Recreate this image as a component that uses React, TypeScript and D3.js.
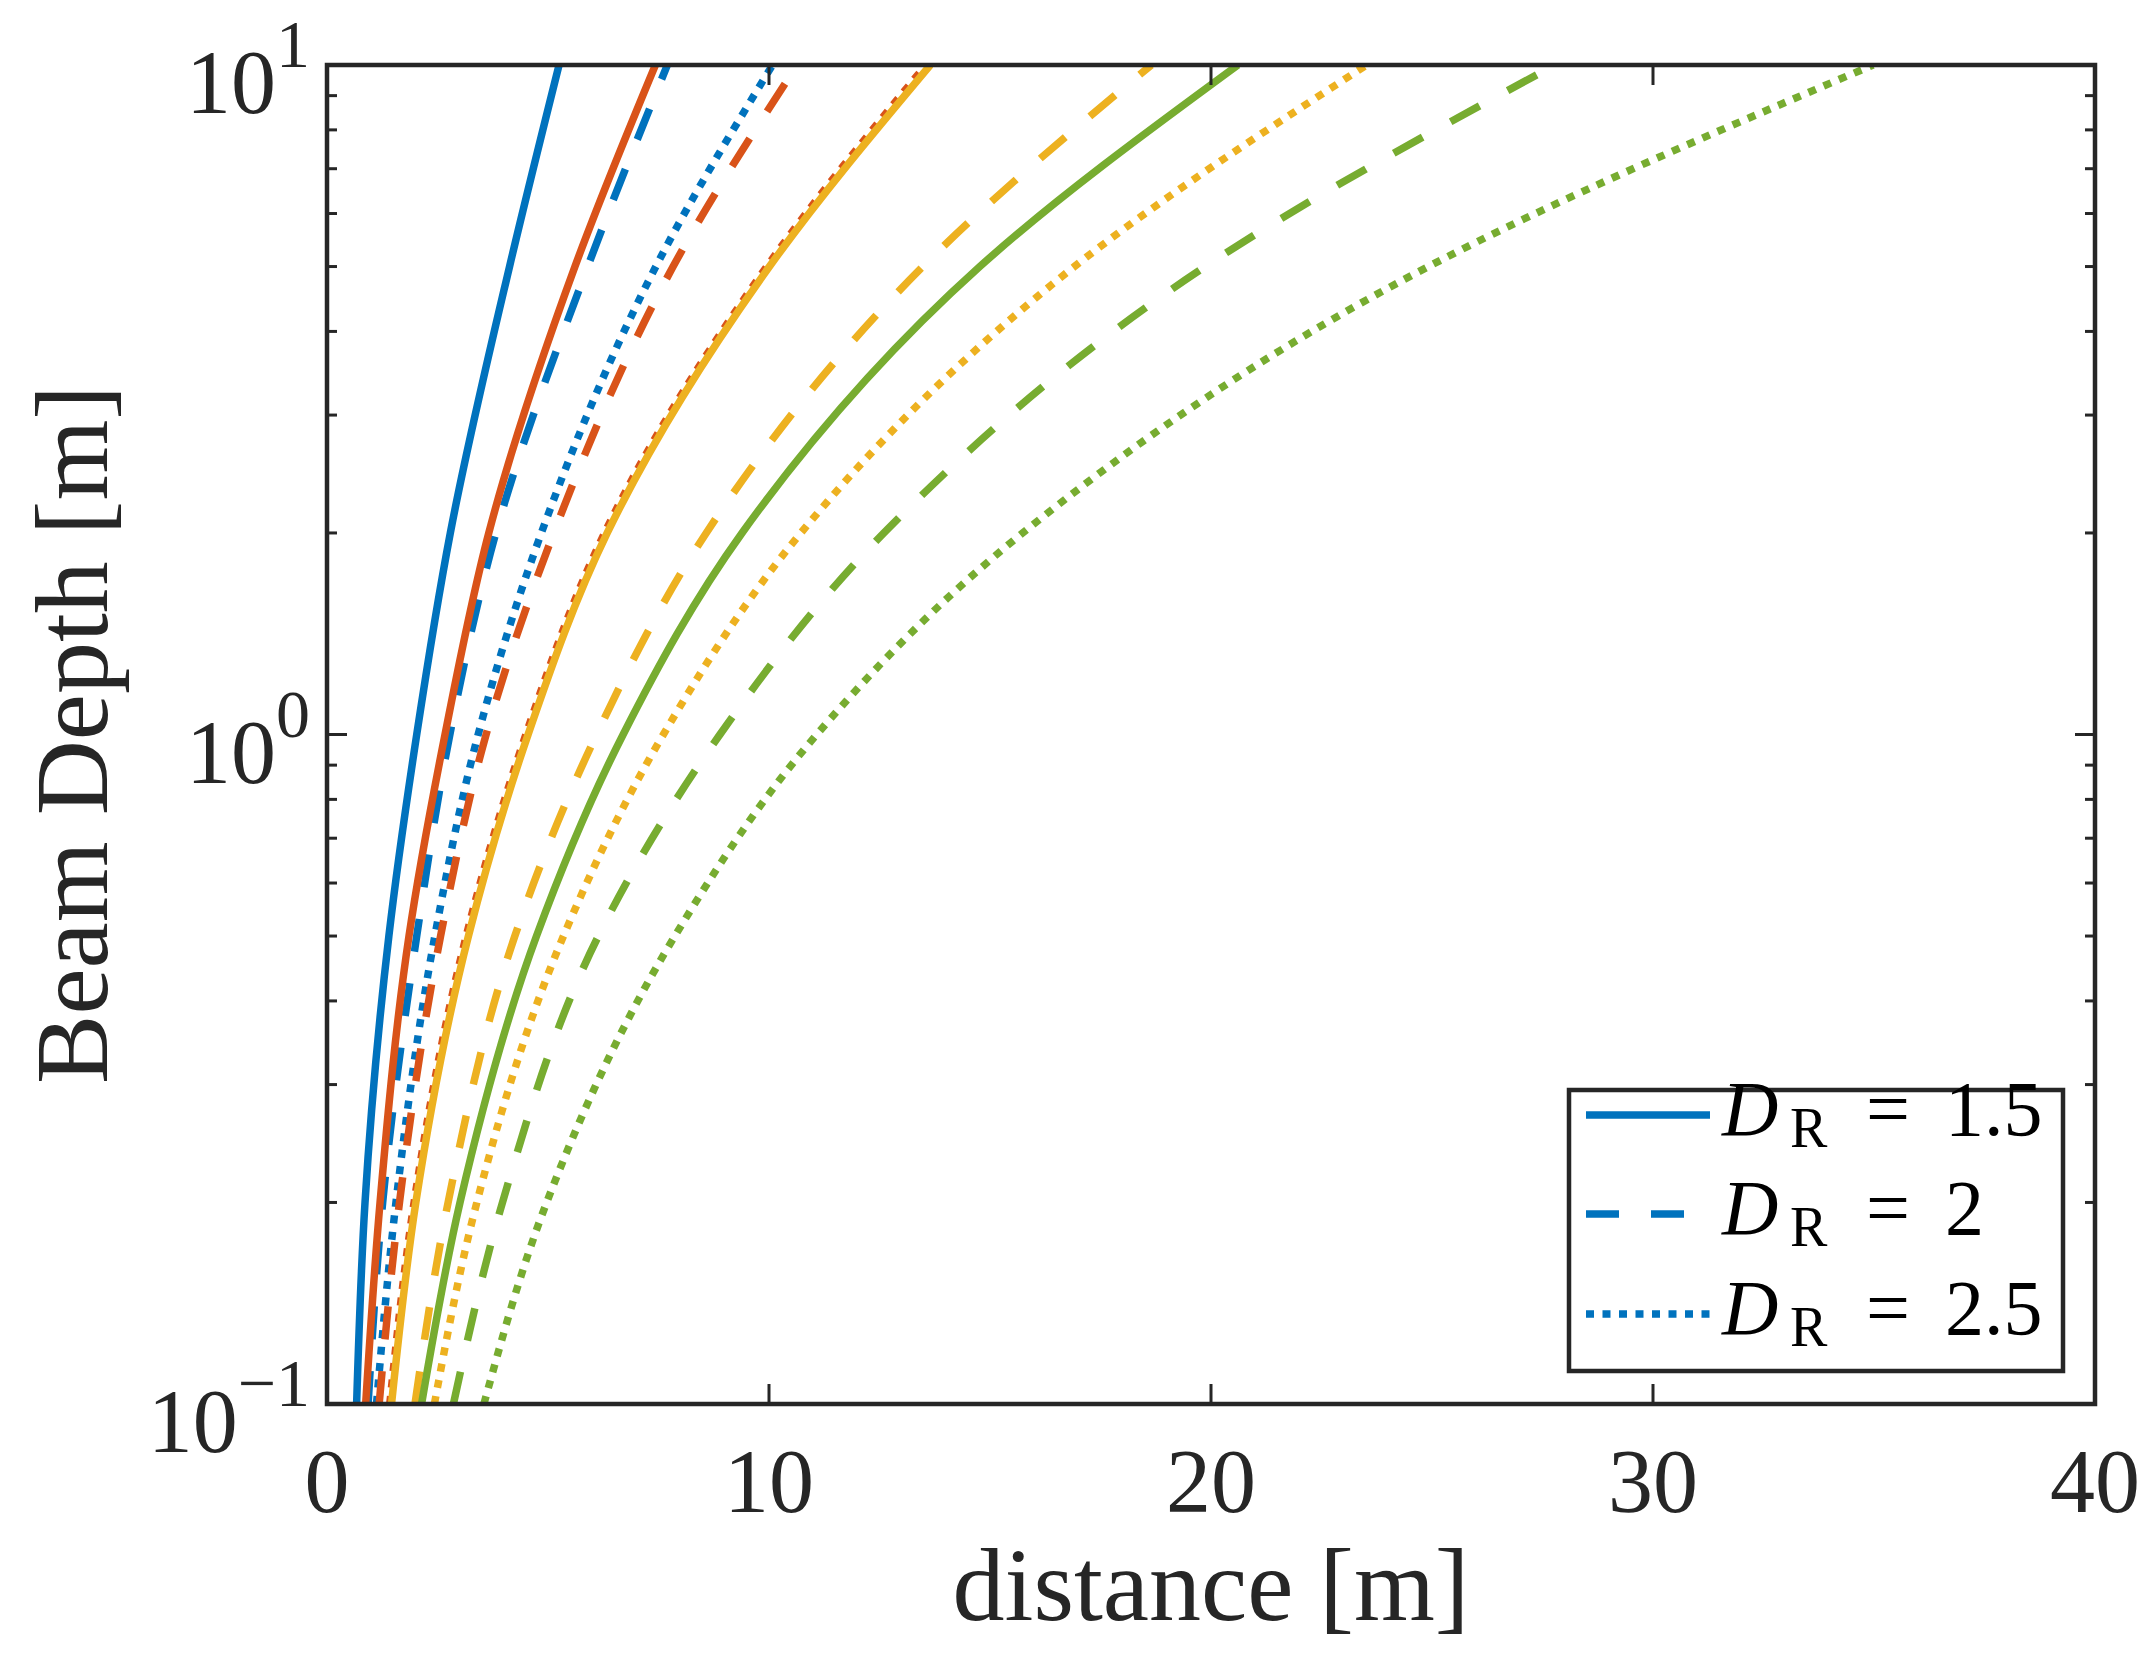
import * as d3 from "d3";

const depths = [0.1, 0.2, 0.5, 1, 2, 5, 10];

// distance [m] per curve, one value per depth
const blueSolid = [0.67, 0.86, 1.4, 2.03, 2.79, 4.13, 5.25];
const blueDashed = [0.93, 1.26, 2.03, 2.78, 3.82, 5.9, 7.7];
const blueDotted = [1.12, 1.56, 2.44, 3.42, 4.85, 7.44, 10.08];
const orangeSolid = [0.875, 1.2, 1.855, 2.67, 3.66, 5.61, 7.43];
const orangeDashed = [1.18, 1.64, 2.57, 3.6, 5.13, 7.83, 10.64];
const orangeDotted = [1.42, 1.97, 3.15, 4.5, 6.28, 9.95, 13.55];
const yellowSolid = [1.46, 2.01, 3.2, 4.55, 6.34, 10.01, 13.65];
const yellowDashed = [1.99, 2.74, 4.25, 6.1, 8.58, 13.48, 18.65];
const yellowDotted = [2.43, 3.39, 5.35, 7.61, 10.72, 16.91, 23.52];
const greenSolid = [2.14, 3.01, 4.74, 6.7, 9.39, 14.77, 20.61];
const greenDashed = [2.86, 3.97, 6.14, 8.89, 12.6, 19.87, 27.78];
const greenDotted = [3.55, 4.97, 7.87, 11.08, 15.74, 24.92, 34.98];

const legendValues = ["1.5", "2", "2.5"];
const xTicks = [0, 10, 20, 30, 40];
const yExponents = [-1, 0, 1];

const BLUE = "#0072BD";
const ORANGE = "#D95319";
const YELLOW = "#EDB120";
const GREEN = "#77AC30";
const AX = "#262626";

const DASH: Record<string, string | undefined> = {
  solid: undefined,
  dashed: "33 32",
  dotted: "8 8.5",
};

// drawn colour by colour, like the original loop
const series = [
  { values: blueSolid, color: BLUE, style: "solid" },
  { values: blueDashed, color: BLUE, style: "dashed" },
  { values: blueDotted, color: BLUE, style: "dotted" },
  { values: orangeSolid, color: ORANGE, style: "solid" },
  { values: orangeDashed, color: ORANGE, style: "dashed" },
  { values: orangeDotted, color: ORANGE, style: "dotted" },
  { values: yellowSolid, color: YELLOW, style: "solid" },
  { values: yellowDashed, color: YELLOW, style: "dashed" },
  { values: yellowDotted, color: YELLOW, style: "dotted" },
  { values: greenSolid, color: GREEN, style: "solid" },
  { values: greenDashed, color: GREEN, style: "dashed" },
  { values: greenDotted, color: GREEN, style: "dotted" },
];

const legendStyles = ["solid", "dashed", "dotted"];

export default function App() {
  const width = 2150;
  const height = 1666;
  const left = 327;
  const right = 2095;
  const top = 65;
  const bottom = 1404;
  const font = "'Liberation Serif', 'Times New Roman', serif";

  const x = d3.scaleLinear().domain([0, 40]).range([left, right]);
  const y = d3.scaleLog().domain([0.1, 10]).range([bottom, top]);

  const line = d3
    .line<[number, number]>()
    .x((d) => x(d[0]))
    .y((d) => y(d[1]))
    .curve(d3.curveMonotoneY);

  const allY = y.ticks();
  const minorY = allY.filter((v) => Math.abs(Math.log10(v) - Math.round(Math.log10(v))) > 1e-6);
  const majorY = allY.filter((v) => Math.abs(Math.log10(v) - Math.round(Math.log10(v))) <= 1e-6);

  // legend box
  const lg = { x0: 1569, x1: 2063, y0: 1090, y1: 1371 };
  const lgRows = [1115, 1214, 1314];

  return (
    <svg
      width={width}
      height={height}
      style={{ position: "absolute", left: 0, top: 0, background: "#fff" }}
      fontFamily={font}
    >
      <rect x={0} y={0} width={width} height={height} fill="#fff" />
      <defs>
        <clipPath id="plot">
          <rect x={left} y={top} width={right - left} height={bottom - top} />
        </clipPath>
      </defs>

      <g clipPath="url(#plot)">
        {series.map((s, i) => (
          <path
            key={i}
            d={line(s.values.map((v, j) => [v, depths[j]] as [number, number])) || ""}
            fill="none"
            stroke={s.color}
            strokeWidth={7.5}
            strokeDasharray={DASH[s.style]}
            strokeLinecap="butt"
          />
        ))}
      </g>

      {/* ticks */}
      <g stroke={AX} strokeWidth={3}>
        {xTicks.map((t) => (
          <g key={"xt" + t}>
            <line x1={x(t)} x2={x(t)} y1={bottom} y2={bottom - 20} />
            <line x1={x(t)} x2={x(t)} y1={top} y2={top + 20} />
          </g>
        ))}
        {majorY.map((t) => (
          <g key={"ym" + t}>
            <line x1={left} x2={left + 20} y1={y(t)} y2={y(t)} />
            <line x1={right} x2={right - 20} y1={y(t)} y2={y(t)} />
          </g>
        ))}
        {minorY.map((t) => (
          <g key={"yn" + t}>
            <line x1={left} x2={left + 10} y1={y(t)} y2={y(t)} />
            <line x1={right} x2={right - 10} y1={y(t)} y2={y(t)} />
          </g>
        ))}
      </g>

      {/* axes box */}
      <rect
        x={left}
        y={top}
        width={right - left}
        height={bottom - top}
        fill="none"
        stroke={AX}
        strokeWidth={4.5}
      />

      {/* tick labels */}
      <g fill={AX} fontSize={90}>
        {xTicks.map((t) => (
          <text key={"xl" + t} x={x(t)} y={1512} textAnchor="middle">
            {t}
          </text>
        ))}
        {yExponents.map((e) => (
          <text key={"yl" + e} x={310} y={y(Math.pow(10, e)) + 48} textAnchor="end">
            <tspan>10</tspan>
            <tspan dy={-46} fontSize={68}>
              {e < 0 ? "\u2212" + Math.abs(e) : String(e)}
            </tspan>
          </text>
        ))}
      </g>

      {/* axis labels */}
      <text x={(left + right) / 2} y={1620} textAnchor="middle" fontSize={104} fill={AX}>
        distance [m]
      </text>
      <text
        transform={`translate(107,${(top + bottom) / 2}) rotate(-90)`}
        textAnchor="middle"
        fontSize={104}
        fill={AX}
      >
        Beam Depth [m]
      </text>

      {/* legend */}
      <rect
        x={lg.x0}
        y={lg.y0}
        width={lg.x1 - lg.x0}
        height={lg.y1 - lg.y0}
        fill="#fff"
        stroke={AX}
        strokeWidth={4.5}
      />
      {legendValues.map((v, i) => (
        <g key={"lg" + i}>
          <line
            x1={1586}
            x2={1710}
            y1={lgRows[i]}
            y2={lgRows[i]}
            stroke={BLUE}
            strokeWidth={7.5}
            strokeDasharray={DASH[legendStyles[i]]}
          />
          <text x={1722} y={lgRows[i] + 20} fontSize={78} fontStyle="italic" fill="#000">
            D
          </text>
          <text x={1790} y={lgRows[i] + 32} fontSize={56} fill="#000">
            R
          </text>
          <text x={1888} y={lgRows[i] + 20} fontSize={78} textAnchor="middle" fill="#000">
            =
          </text>
          <text x={1945} y={lgRows[i] + 20} fontSize={78} fill="#000">
            {v}
          </text>
        </g>
      ))}
    </svg>
  );
}
